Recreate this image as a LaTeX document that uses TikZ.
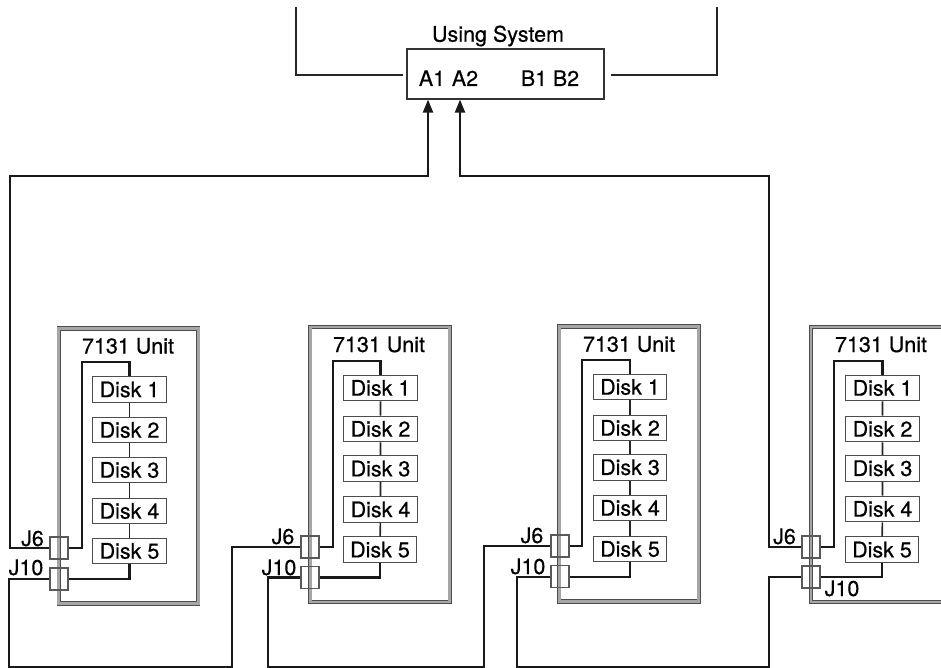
\documentclass[tikz,border=0pt]{standalone}
\usepackage{fontspec}
\setmainfont{TeX Gyre Heros}[RawFeature={embolden=0.5}]
\usepackage{tikz}
\usetikzlibrary{arrows.meta}

\begin{document}
\begin{tikzpicture}[x=1pt, y=-1pt,
        every node/.style={font=\fontsize{21.5}{24}\selectfont, text=black},
        unitbox/.style={rectangle, draw=black!70, double=black!35, double distance=2.8pt, line width=0.8pt, minimum width=139.5pt, minimum height=275pt},
        disk/.style={rectangle, draw=black!70, line width=1.1pt, inner sep=0pt, minimum width=73.5pt, minimum height=25.6pt},
        port/.style={rectangle, draw=black!65, line width=1.1pt, inner sep=0pt, minimum width=18pt, minimum height=22pt},
        lbl/.style={anchor=base, inner sep=0pt},
        cable/.style={draw=black!90, line width=2.1pt},
        link/.style={draw=black!85, line width=1.6pt}]
        \useasboundingbox (0,0) rectangle (941,668);
        \clip (0,0) rectangle (941,668);

        % Using system
        \node[rectangle, draw=black!80, line width=1.2pt, minimum width=197pt, minimum height=50pt] (sys) at (505.5,74) {};
        \node[lbl] (systxt) at (498,41.7) {Using System};
        \node[lbl] (aone) at (432,86) {A1};
        \node[lbl] (atwo) at (465,86) {A2};
        \node[lbl] (bone) at (534,86) {B1};
        \node[lbl] (btwo) at (566,86) {B2};

        % Free ends at the top
        \coordinate (tl) at (296,7);
        \coordinate (tle) at (403,75);
        \coordinate (tr) at (717,7);
        \coordinate (tre) at (611,75);
        \draw[link] (tl) |- (tle);
        \draw[link] (tr) |- (tre);

        % Unit 1
        \node[unitbox] (u1) at (128.5,466) {};
        \node[lbl] (n1) at (128,353.5) {7131 Unit};
        \node[disk] (d11) at (129.5,389.5) {Disk 1};
        \node[disk] (d12) at (129.5,430)   {Disk 2};
        \node[disk] (d13) at (129.5,470)   {Disk 3};
        \node[disk] (d14) at (129.5,511)   {Disk 4};
        \node[disk] (d15) at (129.5,551)   {Disk 5};
        \node[port] (ja1) at (59,548)      {};
        \node[port] (jb1) at (59,579)      {};
        \node[lbl] (la1) at (32.5,546)     {J6};
        \node[lbl] (lb1) at (26,575)       {J10};

        % Unit 2
        \node[unitbox] (u2) at (380,464.5) {};
        \node[lbl] (n2) at (379,352) {7131 Unit};
        \node[disk] (d21) at (380.5,388)   {Disk 1};
        \node[disk] (d22) at (380.5,429)   {Disk 2};
        \node[disk] (d23) at (380.5,468.7) {Disk 3};
        \node[disk] (d24) at (380.5,509.5) {Disk 4};
        \node[disk] (d25) at (380,549.7)   {Disk 5};
        \node[port] (ja2) at (310,547)     {};
        \node[port] (jb2) at (310,577.5)   {};
        \node[lbl] (la2) at (283,544)      {J6};
        \node[lbl] (lb2) at (279,575)      {J10};

        % Unit 3
        \node[unitbox] (u3) at (629,464) {};
        \node[lbl] (n3) at (629,351.7) {7131 Unit};
        \node[disk] (d31) at (630,387)   {Disk 1};
        \node[disk] (d32) at (630,428)   {Disk 2};
        \node[disk] (d33) at (630,467.3) {Disk 3};
        \node[disk] (d34) at (630,508)   {Disk 4};
        \node[disk] (d35) at (630,549)   {Disk 5};
        \node[port] (ja3) at (560,546)   {};
        \node[port] (jb3) at (560,576.7) {};
        \node[lbl] (la3) at (532,543)    {J6};
        \node[lbl] (lb3) at (528,574)    {J10};

        % Unit 4
        \node[unitbox] (u4) at (880.7,464.5) {};
        \node[lbl] (n4) at (881,352) {7131 Unit};
        \node[disk] (d41) at (882.5,388)   {Disk 1};
        \node[disk] (d42) at (882.5,429)   {Disk 2};
        \node[disk] (d43) at (882.5,468.3) {Disk 3};
        \node[disk] (d44) at (882.5,509)   {Disk 4};
        \node[disk] (d45) at (882,549.7)   {Disk 5};
        \node[port] (ja4) at (811,547)     {};
        \node[port] (jb4) at (811,577)     {};
        \node[lbl] (la4) at (784.5,544)    {J6};
        \node[lbl] (lb4) at (842,596)      {J10};

        % Disk chains
        \draw[link] (d11)--(d12)--(d13)--(d14)--(d15);
        \draw[link] (d21)--(d22)--(d23)--(d24)--(d25);
        \draw[link] (d31)--(d32)--(d33)--(d34)--(d35);
        \draw[link] (d41)--(d42)--(d43)--(d44)--(d45);

        % Inner cables
        \coordinate (k1) at (82,362);
        \coordinate (k2) at (333,361);
        \coordinate (k3) at (582,360);
        \coordinate (k4) at (834,361);
        \draw[cable] (ja1.east) -| (k1) -| (d11.north);
        \draw[cable] (ja2.east) -| (k2) -| (d21.north);
        \draw[cable] (ja3.east) -| (k3) -| (d31.north);
        \draw[cable] (ja4.east) -| (k4) -| (d41.north);
        \draw[cable] (d15.south) |- (jb1.east);
        \draw[cable] (d25.south) |- (jb2.east);
        \draw[cable] (d35.south) |- (jb3.east);
        \draw[cable] (d45.south) |- (jb4.east);

        % Loops between units
        \coordinate (b1) at (9,667);
        \coordinate (b2) at (232,667);
        \coordinate (b3) at (268,667);
        \coordinate (b4) at (484,667);
        \coordinate (b5) at (517,667);
        \coordinate (b6) at (769,667);
        \draw[cable] (jb1.west) -| (b1) -- (b2) |- (ja2.west);
        \draw[cable] (jb2.west) -| (b3) -- (b4) |- (ja3.west);
        \draw[cable] (jb3.west) -| (b5) -- (b6) |- (jb4.west);

        % Up to the using system
        \coordinate (c1) at (10,176);
        \coordinate (c2) at (428,176);
        \coordinate (c3) at (460,176);
        \coordinate (c4) at (769,176);
        \draw[cable, -{Triangle[width=10pt,length=13pt]}] (ja1.west) -| (c1) -- (c2) -- (c2 |- sys.south);
        \draw[cable, -{Triangle[width=10pt,length=13pt]}] (ja4.west) -| (c4) -- (c3) -- (c3 |- sys.south);
\end{tikzpicture}
\end{document}
